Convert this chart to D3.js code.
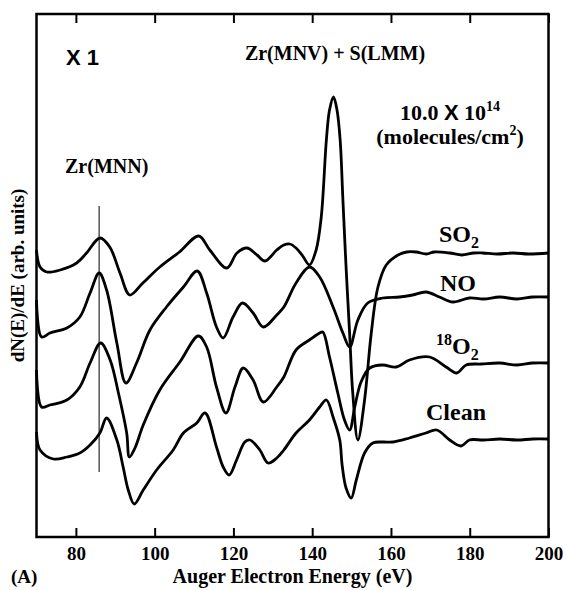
<!DOCTYPE html>
<html>
<head>
<meta charset="utf-8">
<title>Auger spectra</title>
<script src="https://cdn.jsdelivr.net/npm/d3@7"></script>
</head>
<body style="margin:0; background:#fff">
<svg width="567" height="590" id="mainsvg"></svg>
<script>
// energy (eV), signal (arb. units, curves already offset)
const xTicks = [80, 100, 120, 140, 160, 180, 200];

const so2 = [[70.0,287],[70.9,270],[72.6,265],[76.0,267],[80.2,274],[82.7,284],[86.1,299],[88.6,290],
  [91.2,264],[93.7,242],[97.0,254],[101.3,270],[106.3,285],[111.2,301],[114.0,287],[118.3,269],
  [120.9,284],[123.4,289],[126.0,282],[128.0,276],[131.0,287],[132.8,292],[134.3,293],[135.9,289],
  [137.6,281],[139.3,272],[141.0,287],[142.3,320],[143.6,397],[144.4,427],[145.4,440],[146.3,427],
  [147.1,397],[147.8,337],[148.6,270],[149.5,204],[150.3,144],[151.6,97],[153.3,137],[155.0,204],
  [156.7,250],[158.8,272],[161.8,282],[164.0,285],[166.4,285],[169.0,283],[171.0,285],[174.9,284],
  [178.0,282],[181.0,284],[183.3,284],[187.0,283],[191.0,284],[195.0,283],[200.0,284]];

const no = [[70.0,237],[71.3,200],[73.4,204],[77.7,209],[81.0,220],[83.6,244],[85.9,264],[87.8,247],
  [90.4,194],[92.7,154],[95.4,174],[98.8,207],[103.0,230],[107.3,250],[110.8,266],[113.2,244],
  [115.7,210],[117.4,199],[119.9,220],[122.3,234],[125.0,224],[127.6,210],[131.0,222],[132.8,230],
  [135.9,254],[139.3,270],[141.9,260],[145.3,230],[147.8,204],[149.5,190],[151.6,217],[154.1,234],
  [157.9,239],[162.2,240],[165.5,242],[168.9,245],[172.3,240],[175.7,235],[179.9,239],[183.5,238],
  [187.6,240],[192.0,238],[196.0,240],[200.0,240]];

const o2 = [[70.0,167],[71.3,130],[73.4,132],[77.7,137],[81.0,150],[83.6,174],[86.3,194],[88.7,177],
  [90.8,144],[92.9,104],[93.6,80],[95.0,89],[97.1,112],[101.3,147],[106.4,175],[111.1,201],
  [113.2,190],[115.7,150],[118.1,124],[120.4,150],[122.5,169],[125.0,157],[127.6,135],[131.0,150],
  [132.8,160],[135.9,187],[139.3,197],[141.9,204],[142.7,205],[144.4,180],[146.5,144],[148.2,117],
  [149.5,107],[150.8,130],[152.4,155],[154.6,169],[157.9,172],[161.3,170],[164.7,177],[169.8,180],
  [174.0,170],[176.7,164],[179.1,172],[183.0,173],[187.6,174],[192.0,172],[196.0,174],[200.0,174]];

const clean = [[70.0,105],[70.9,87],[74.3,78],[77.7,80],[81.0,84],[83.6,92],[86.1,104],[87.8,119],
  [90.4,97],[92.0,70],[93.3,47],[94.8,33],[97.1,47],[100.5,67],[104.7,87],[107.3,104],[110.7,114],
  [112.8,124],[115.7,90],[117.4,70],[118.9,62],[120.8,77],[122.9,95],[124.2,97],[126.7,87],
  [128.8,74],[131.0,79],[132.8,87],[135.9,104],[139.3,117],[141.9,130],[143.6,137],[145.3,120],
  [147.0,97],[147.6,72],[148.6,49],[149.9,39],[151.2,57],[153.3,84],[155.4,94],[157.9,95],
  [160.5,95],[164.7,99],[168.9,104],[171.6,107],[174.9,97],[177.8,91],[179.9,97],[183.5,97],
  [187.6,98],[192.0,97],[196.0,98],[200.0,98]];

const zrLine = {energy: 85.9, from: 65, to: 331};

const SERIF = 'Liberation Serif';
const SANS = 'Liberation Sans';

const svg = d3.select('#mainsvg');
const width = +svg.attr('width');
const height = +svg.attr('height');
const margin = {top: 14, right: 18.5, bottom: 53, left: 36.5};
const innerWidth = width - margin.left - margin.right;
const innerHeight = height - margin.top - margin.bottom;

const xScale = d3.scaleLinear().domain([70, 200]).range([0, innerWidth]);
const yScale = d3.scaleLinear().domain([0, 523]).range([innerHeight, 0]);

const g = svg.append('g').attr('transform', `translate(${margin.left}, ${margin.top})`);

// axes, ticks pointing inward
const xAxis = d3.axisBottom(xScale).tickValues(xTicks).tickSize(-9).tickPadding(10);
const bottomAxis = g.append('g').attr('transform', `translate(0, ${innerHeight})`).call(xAxis);
const topAxis = g.append('g').call(d3.axisTop(xScale).tickValues(xTicks).tickSize(-9).tickFormat(''));
[bottomAxis, topAxis].forEach(a => {
  a.select('.domain').remove();
  a.selectAll('.tick line').attr('stroke', '#000').attr('stroke-width', 2);
});
topAxis.selectAll('.tick text').remove();
bottomAxis.attr('font-family', SERIF).attr('font-size', 19).attr('font-weight', 'bold');
bottomAxis.selectAll('.tick text').attr('fill', '#000');

// Zr(MNN) marker
g.append('line')
  .attr('x1', xScale(zrLine.energy)).attr('x2', xScale(zrLine.energy))
  .attr('y1', yScale(zrLine.to)).attr('y2', yScale(zrLine.from))
  .attr('stroke', '#000').attr('stroke-width', 1);

const line = d3.line()
  .x(d => xScale(d[0])).y(d => yScale(d[1]))
  .curve(d3.curveCatmullRom.alpha(0.5));

[so2, no, o2, clean].forEach(s => {
  g.append('path').datum(s).attr('d', line)
    .attr('fill', 'none').attr('stroke', '#000')
    .attr('stroke-width', 2.8).attr('stroke-linejoin', 'round');
});

g.append('rect').attr('width', innerWidth).attr('height', innerHeight)
  .attr('fill', 'none').attr('stroke', '#000').attr('stroke-width', 2.5);

// texts
function label(x, y, size, family) {
  return svg.append('text').attr('x', x).attr('y', y)
    .attr('font-family', family || SERIF).attr('font-weight', 'bold')
    .attr('font-size', size).attr('fill', '#000');
}

label(66, 65, 22, SANS).text('X 1');

label(335, 60, 20).attr('text-anchor', 'middle').text('Zr(MNV) + S(LMM)');

label(65, 173, 20).text('Zr(MNN)');

const dose = label(450, 120, 22).attr('text-anchor', 'middle');
dose.append('tspan').text('10.0 ');
dose.append('tspan').attr('font-family', SANS).text('X');
dose.append('tspan').text(' 10');
dose.append('tspan').text('14').attr('font-size', 14).attr('dy', -9);

const unit = label(450, 144, 22).attr('text-anchor', 'middle');
unit.append('tspan').text('(molecules/cm');
unit.append('tspan').text('2').attr('font-size', 14).attr('dy', -9);
unit.append('tspan').text(')').attr('dy', 9);

const lab1 = label(439, 242, 24);
lab1.append('tspan').text('SO');
lab1.append('tspan').text('2').attr('font-size', 16).attr('dy', 6);

label(440, 291, 24).text('NO');

const lab3 = label(436, 354, 24);
lab3.append('tspan').text('18').attr('font-size', 16).attr('dy', -9);
lab3.append('tspan').text('O').attr('dy', 9);
lab3.append('tspan').text('2').attr('font-size', 16).attr('dy', 6);

label(426, 420, 24).text('Clean');

label(margin.left + innerWidth / 2, 583, 20).attr('text-anchor', 'middle')
  .text('Auger Electron Energy (eV)');

label(11, 583, 19).text('(A)');

label(0, 0, 19).attr('text-anchor', 'middle')
  .attr('transform', `translate(24, ${margin.top + innerHeight / 2}) rotate(-90)`)
  .text('dN(E)/dE (arb. units)');
</script>
</body>
</html>
